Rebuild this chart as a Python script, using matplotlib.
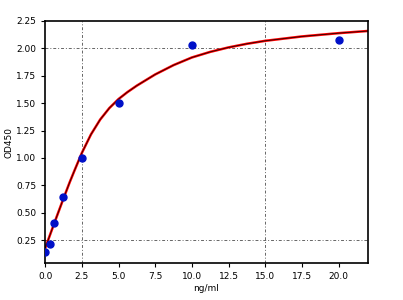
import matplotlib
matplotlib.use('Agg')
import matplotlib.pyplot as plt

# Standard points (concentration ng/ml vs OD450)
conc = [0.0, 0.3125, 0.625, 1.25, 2.5, 5.0, 10.0, 20.0]
od = [0.14, 0.21, 0.41, 0.645, 1.0, 1.505, 2.03, 2.08]

# Fitted curve
curve_x = [0.0, 0.3125, 0.625, 1.0, 1.25, 1.68, 2.0, 2.5, 3.125, 3.75, 4.375, 5.0,
           5.6, 6.25, 7.5, 8.75, 10.0, 11.25, 12.5, 13.75, 15.0, 17.5, 20.0, 22.0]
curve_y = [0.175, 0.29, 0.405, 0.54, 0.63, 0.78, 0.885, 1.045, 1.215, 1.35, 1.455, 1.537,
           1.6, 1.66, 1.762, 1.847, 1.917, 1.968, 2.009, 2.042, 2.069, 2.109, 2.139, 2.159]

fig = plt.figure(figsize=(4.03, 3.0), dpi=100)
ax = fig.add_axes([0.112, 0.123, 0.801, 0.807])

# dash-dot reference lines
ls = (0, (3, 2, 1, 2))
for xv in [2.5, 15.0]:
    ax.axvline(xv, color='#666666', linestyle=ls, linewidth=0.7, zorder=1)
for yv in [0.25, 2.0]:
    ax.axhline(yv, color='#666666', linestyle=ls, linewidth=0.7, zorder=1)

ax.plot(curve_x, curve_y, color='red', linewidth=1.8, zorder=2)
ax.plot(curve_x, curve_y, color='black', linewidth=0.5, zorder=3)
ax.plot(conc, od, 'o', color='#0010c8', markersize=5, zorder=4)

ax.set_xlim(0, 22)
ax.set_ylim(0.04, 2.25)
ax.set_xticks([0, 2.5, 5, 7.5, 10, 12.5, 15, 17.5, 20])
ax.set_yticks([0.25, 0.5, 0.75, 1.0, 1.25, 1.5, 1.75, 2.0, 2.25])
ax.tick_params(labelsize=6.5, length=3, width=0.8)
ax.set_xlabel('ng/ml', fontsize=6.5, labelpad=2)
ax.set_ylabel('OD450', fontsize=6.5, labelpad=2)
for s in ax.spines.values():
    s.set_linewidth(1.2)

plt.savefig('out.png', dpi=100)
